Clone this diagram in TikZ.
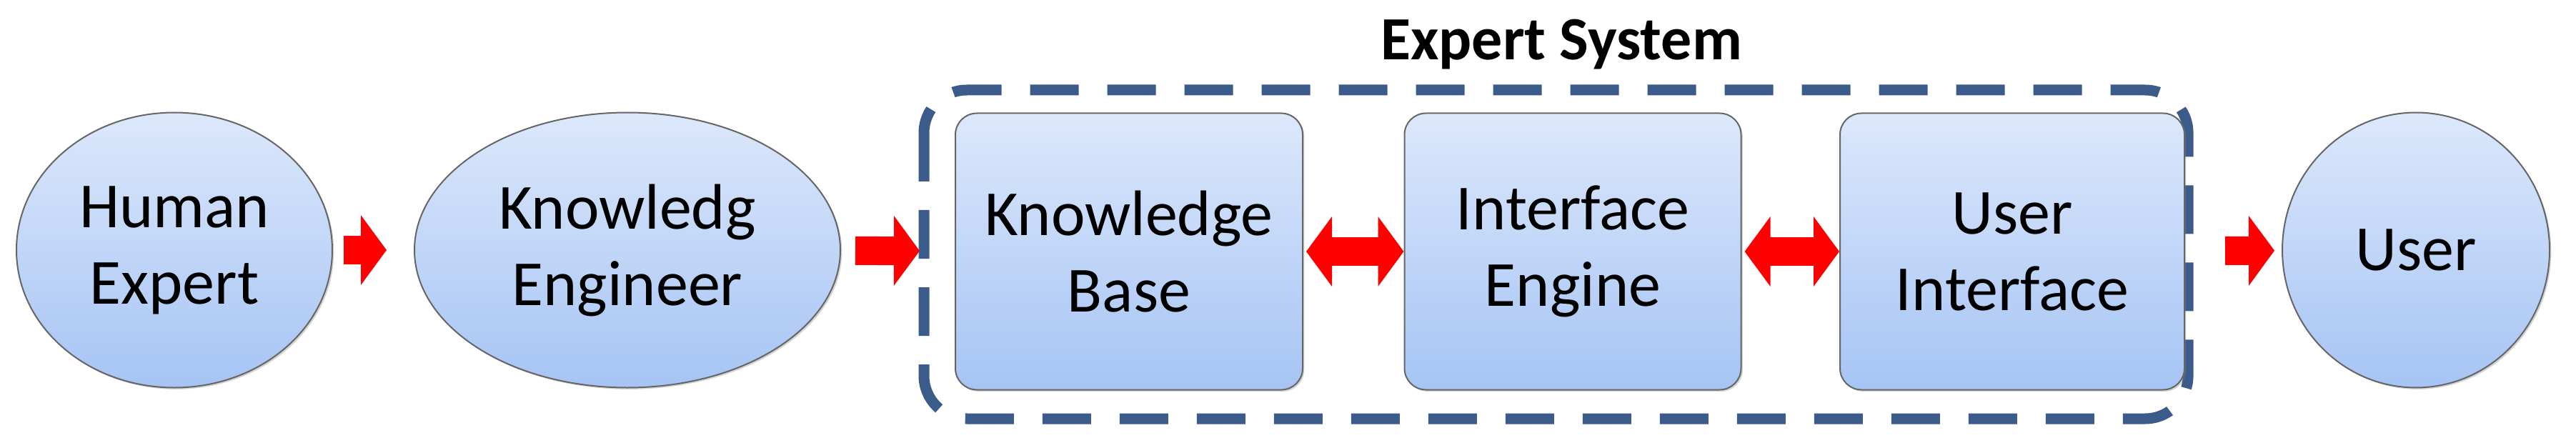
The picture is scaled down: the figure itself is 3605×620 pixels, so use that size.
\documentclass[tikz,border=0pt]{standalone}
\usepackage{fontspec}
\setmainfont{Carlito}
\usetikzlibrary{shadows,arrows.meta,shapes.geometric}
\definecolor{boxtop}{HTML}{DCE8FB}
\definecolor{boxbot}{HTML}{A6C4F4}
\definecolor{dashblue}{HTML}{3B5B8A}
\tikzset{
  blob/.style={draw=gray!80!black, line width=2pt, top color=boxtop, bottom color=boxbot, drop shadow={opacity=0.35}, align=center, inner sep=0pt, font=\fontsize{90}{107}\selectfont},
  oval/.style={blob, ellipse},
  card/.style={blob, rounded corners=30pt},
  redarrow/.style={line width=40pt, red, -{Triangle[width=96pt,length=36pt]}},
  redboth/.style={line width=40pt, red, {Triangle[width=96pt,length=36pt]}-{Triangle[width=96pt,length=36pt]}}
}
\begin{document}
\begin{tikzpicture}[x=1pt,y=1pt,yscale=-1]
    \useasboundingbox (0,0) rectangle (3605,620);

    % dashed frame and its title
    \draw [dashblue, line width=15pt, dash pattern=on 68pt off 40pt, rounded corners=60pt] (1293,126) rectangle (3062,586);
    \draw (2185,62) node [font=\bfseries\fontsize{86}{100}\selectfont] (title) {Expert System};

    \draw (244,350)  node [oval, minimum width=442pt, minimum height=385pt] (human) {Human\\Expert};
    \draw (878,350)  node [oval, minimum width=596pt, minimum height=385pt] (keng)  {Knowledg\\Engineer};
    \draw (1580,352) node [card, minimum width=486pt, minimum height=387pt] (kbase) {Knowledge\\Base};
    \draw (2201,352) node [card, minimum width=471pt, minimum height=387pt] (ieng)  {Interface\\Engine};
    \draw (2816,352) node [card, minimum width=482pt, minimum height=387pt] (uif)   {User\\Interface};
    \draw (3381,350) node [oval, minimum width=374pt, minimum height=385pt] (user)  {User};

    \draw [redarrow, shorten <=15pt, shorten >=38pt] (human) -- (keng);
    \draw [redarrow, shorten <=20pt, shorten >=49pt] (keng) -- (kbase);
    \draw [redboth, shorten <=4pt, shorten >=0pt] (kbase) -- (ieng);
    \draw [redboth, shorten <=4pt, shorten >=0pt] (ieng) -- (uif);
    \draw [redarrow, shorten <=56pt, shorten >=10pt] (uif) -- (user);
\end{tikzpicture}
\end{document}
